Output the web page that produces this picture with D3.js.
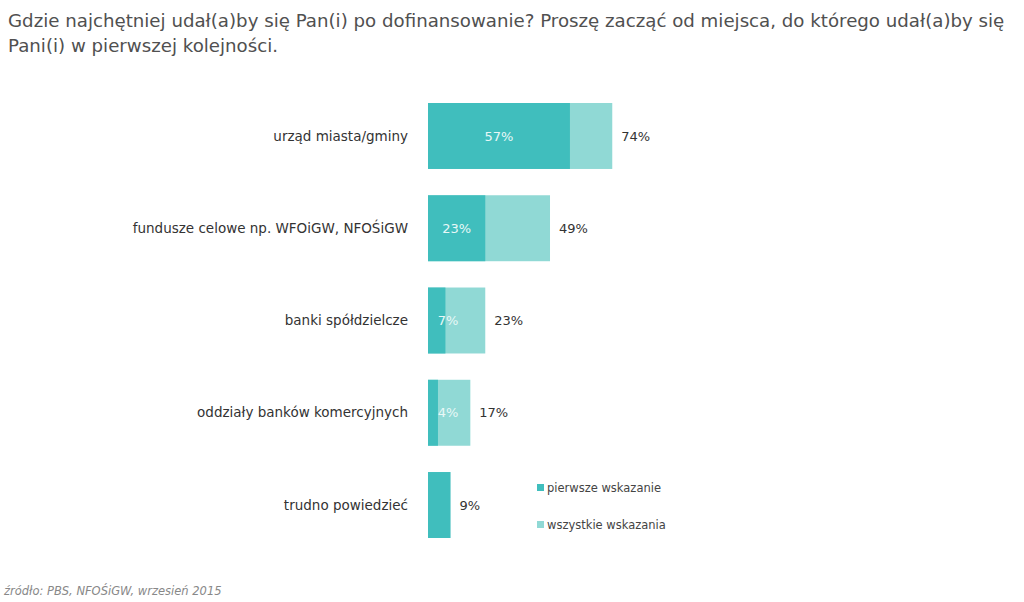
<!DOCTYPE html>
<html>
<head>
<meta charset="utf-8">
<script src="https://cdn.jsdelivr.net/npm/d3@7"></script>
<style>
  body { margin: 0; background: #fff; }
  svg { display: block; font-family: 'DejaVu Sans', sans-serif; }
  .title { fill: #505050; font-size: 18.2px; }
  .cat { fill: #333; font-size: 13.5px; }
  .val { fill: #333; font-size: 13px; }
  .inner { fill: #e8f8f7; font-size: 13px; }
  .legend { fill: #444; font-size: 11.5px; }
  .source { fill: #888; font-size: 11.5px; font-style: italic; }
</style>
</head>
<body>
<div id="chart"></div>
<script>
// Data
const categories = [
  'urząd miasta/gminy',
  'fundusze celowe np. WFOiGW, NFOŚiGW',
  'banki spółdzielcze',
  'oddziały banków komercyjnych',
  'trudno powiedzieć'
];
const firstChoice = [57, 23, 7, 4, 9];
const allChoices = [74, 49, 23, 17, 9];
const innerLabels = ['57%', '23%', '7%', '4%', null];
const seriesNames = ['pierwsze wskazanie', 'wszystkie wskazania'];

const DARK = '#40bebd';
const LIGHT = '#90d9d5';

const width = 1024, height = 602;

const svg = d3.select('#chart').append('svg')
  .attr('width', width)
  .attr('height', height);

// Title
const title = svg.append('text').attr('class', 'title');
title.append('tspan').attr('x', 8).attr('y', 27)
  .text('Gdzie najchętniej udał(a)by się Pan(i) po dofinansowanie? Proszę zacząć od miejsca, do którego udał(a)by się');
title.append('tspan').attr('x', 8).attr('y', 52)
  .text('Pani(i) w pierwszej kolejności.');

// Scales
const x = d3.scaleLinear().domain([0, 100]).range([428, 677]);
const y = d3.scaleBand().domain(categories).range([103, 538]).paddingInner(0.285).paddingOuter(0);

const rows = categories.map((c, i) => ({ cat: c, first: firstChoice[i], all: allChoices[i], inner: innerLabels[i] }));

const g = svg.append('g');

// all-choices bars (light), then first-choice (dark) on top
g.selectAll('.bar-all')
  .data(rows)
  .join('rect')
  .attr('class', 'bar-all')
  .attr('x', x(0))
  .attr('y', d => y(d.cat))
  .attr('width', d => x(d.all) - x(0))
  .attr('height', y.bandwidth())
  .attr('fill', LIGHT);

g.selectAll('.bar-first')
  .data(rows)
  .join('rect')
  .attr('class', 'bar-first')
  .attr('x', x(0))
  .attr('y', d => y(d.cat))
  .attr('width', d => x(d.first) - x(0))
  .attr('height', y.bandwidth())
  .attr('fill', DARK);

// category labels
g.selectAll('.cat')
  .data(rows)
  .join('text')
  .attr('class', 'cat')
  .attr('x', 408)
  .attr('y', d => y(d.cat) + y.bandwidth() / 2)
  .attr('dy', '0.35em')
  .attr('text-anchor', 'end')
  .text(d => d.cat);

// total labels
g.selectAll('.val')
  .data(rows)
  .join('text')
  .attr('class', 'val')
  .attr('x', d => x(d.all) + 9)
  .attr('y', d => y(d.cat) + y.bandwidth() / 2)
  .attr('dy', '0.35em')
  .text(d => d.all + '%');

// inner (first-choice) labels
g.selectAll('.inner')
  .data(rows.filter(d => d.inner))
  .join('text')
  .attr('class', 'inner')
  .attr('x', d => Math.max((x(0) + x(d.first)) / 2, 448))
  .attr('y', d => y(d.cat) + y.bandwidth() / 2)
  .attr('dy', '0.35em')
  .attr('text-anchor', 'middle')
  .text(d => d.inner);

// legend
const legend = svg.append('g').attr('transform', 'translate(537,0)');
seriesNames.forEach((name, i) => {
  const ly = 488 + i * 37;
  legend.append('rect')
    .attr('x', 0).attr('y', ly - 4)
    .attr('width', 7).attr('height', 7)
    .attr('fill', i === 0 ? DARK : LIGHT);
  legend.append('text')
    .attr('class', 'legend')
    .attr('x', 10).attr('y', ly)
    .attr('dy', '0.35em')
    .text(name);
});

// source
svg.append('text')
  .attr('class', 'source')
  .attr('x', 4).attr('y', 595)
  .text('źródło: PBS, NFOŚiGW, wrzesień 2015');
</script>
</body>
</html>
